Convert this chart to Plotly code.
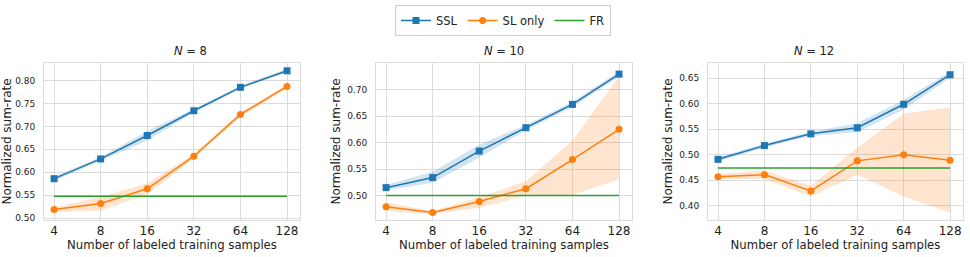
import plotly.graph_objects as go

samples = [4, 8, 16, 32, 64, 128]
panel_titles = ["<i>N</i> = 8", "<i>N</i> = 10", "<i>N</i> = 12"]

ssl_mean = [
    [0.586, 0.629, 0.680, 0.734, 0.785, 0.821],
    [0.515, 0.534, 0.584, 0.628, 0.672, 0.729],
    [0.491, 0.518, 0.541, 0.553, 0.599, 0.657],
]
ssl_lo = [
    [0.581, 0.625, 0.669, 0.730, 0.782, 0.818],
    [0.510, 0.524, 0.572, 0.623, 0.667, 0.724],
    [0.487, 0.514, 0.537, 0.544, 0.589, 0.651],
]
ssl_hi = [
    [0.591, 0.633, 0.690, 0.738, 0.789, 0.825],
    [0.520, 0.545, 0.596, 0.633, 0.677, 0.734],
    [0.495, 0.522, 0.545, 0.562, 0.608, 0.663],
]
sl_mean = [
    [0.519, 0.532, 0.564, 0.635, 0.726, 0.787],
    [0.479, 0.468, 0.489, 0.513, 0.568, 0.625],
    [0.457, 0.461, 0.429, 0.488, 0.500, 0.489],
]
sl_lo = [
    [0.514, 0.516, 0.552, 0.630, 0.721, 0.783],
    [0.471, 0.465, 0.477, 0.500, 0.501, 0.531],
    [0.452, 0.453, 0.418, 0.461, 0.418, 0.386],
]
sl_hi = [
    [0.524, 0.546, 0.576, 0.640, 0.731, 0.791],
    [0.487, 0.471, 0.497, 0.527, 0.604, 0.725],
    [0.462, 0.469, 0.439, 0.514, 0.581, 0.593],
]
fr_value = [0.548, 0.500, 0.474]
y_ranges = [[0.496, 0.838], [0.454, 0.750], [0.372, 0.680]]
y_ticks = [
    [0.50, 0.55, 0.60, 0.65, 0.70, 0.75, 0.80],
    [0.50, 0.55, 0.60, 0.65, 0.70],
    [0.40, 0.45, 0.50, 0.55, 0.60, 0.65],
]

BLUE = "#1f77b4"
ORANGE = "#ff7f0e"
GREEN = "#2ca02c"
W, H = 970, 257
x_domains = [[44 / W, 300 / W], [376 / W, 632 / W], [708 / W, 963 / W]]
y_domain = [1 - 220 / H, 1 - 63 / H]

fig = go.Figure()
for i in range(3):
    xa = "x" if i == 0 else f"x{i+1}"
    ya = "y" if i == 0 else f"y{i+1}"
    fig.add_trace(go.Scatter(x=samples, y=ssl_hi[i], mode="lines", line=dict(width=0),
                             xaxis=xa, yaxis=ya, showlegend=False, hoverinfo="skip"))
    fig.add_trace(go.Scatter(x=samples, y=ssl_lo[i], mode="lines", line=dict(width=0),
                             fill="tonexty", fillcolor="rgba(31,119,180,0.2)",
                             xaxis=xa, yaxis=ya, showlegend=False, hoverinfo="skip"))
    fig.add_trace(go.Scatter(x=samples, y=sl_hi[i], mode="lines", line=dict(width=0),
                             xaxis=xa, yaxis=ya, showlegend=False, hoverinfo="skip"))
    fig.add_trace(go.Scatter(x=samples, y=sl_lo[i], mode="lines", line=dict(width=0),
                             fill="tonexty", fillcolor="rgba(255,127,14,0.2)",
                             xaxis=xa, yaxis=ya, showlegend=False, hoverinfo="skip"))
    fig.add_trace(go.Scatter(x=samples, y=ssl_mean[i], mode="lines+markers", name="SSL",
                             line=dict(color=BLUE, width=1.5),
                             marker=dict(symbol="square", size=7, color=BLUE),
                             xaxis=xa, yaxis=ya, showlegend=(i == 0)))
    fig.add_trace(go.Scatter(x=samples, y=sl_mean[i], mode="lines+markers", name="SL only",
                             line=dict(color=ORANGE, width=1.5),
                             marker=dict(symbol="circle", size=7, color=ORANGE),
                             xaxis=xa, yaxis=ya, showlegend=(i == 0)))
    fig.add_trace(go.Scatter(x=samples, y=[fr_value[i]] * len(samples), mode="lines", name="FR",
                             line=dict(color=GREEN, width=1.5),
                             xaxis=xa, yaxis=ya, showlegend=(i == 0)))

    axis_common = dict(showgrid=True, gridcolor="#dcdcdc", gridwidth=1,
                       showline=True, linecolor="#dcdcdc", linewidth=1, mirror=True,
                       zeroline=False, ticks="", automargin=False,
                       ticklabeloverflow="allow")
    fig.update_layout(**{
        ("xaxis" if i == 0 else f"xaxis{i+1}"): dict(
            domain=x_domains[i], anchor=ya, type="log",
            range=[0.537, 2.191], tickvals=samples, ticktext=[str(s) for s in samples],
            tickfont=dict(size=12, color="#222"),
            title=dict(text="Number of labeled training samples", font=dict(size=11.7, color="#222"),
                       standoff=3),
            **axis_common),
        ("yaxis" if i == 0 else f"yaxis{i+1}"): dict(
            domain=y_domain, anchor=xa, range=y_ranges[i], tickvals=y_ticks[i],
            tickformat=".2f", tickfont=dict(size=9, color="#222"), ticklabelstandoff=6,
            title=dict(text="Normalized sum-rate", font=dict(size=12, color="#222"),
                       standoff=3),
            **axis_common),
    })
    fig.add_annotation(text=panel_titles[i], x=(x_domains[i][0] + x_domains[i][1]) / 2,
                       y=y_domain[1], xref="paper", yref="paper", yanchor="bottom",
                       yshift=3, showarrow=False, font=dict(size=11.5, color="#222"))

fig.update_layout(
    width=W, height=H,
    margin=dict(l=0, r=0, t=0, b=0),
    paper_bgcolor="white", plot_bgcolor="white",
    font=dict(family="DejaVu Sans", color="#222"),
    legend=dict(orientation="h", x=503 / W, xanchor="center", y=1 - 5 / H, yanchor="top",
                bordercolor="#cccccc", borderwidth=1, font=dict(size=11.5),
                traceorder="normal", itemwidth=30, tracegroupgap=0),
)

fig.write_html("out.html", config={"displayModeBar": False},
               post_script="document.body.style.margin='0';document.body.style.padding='0';")
